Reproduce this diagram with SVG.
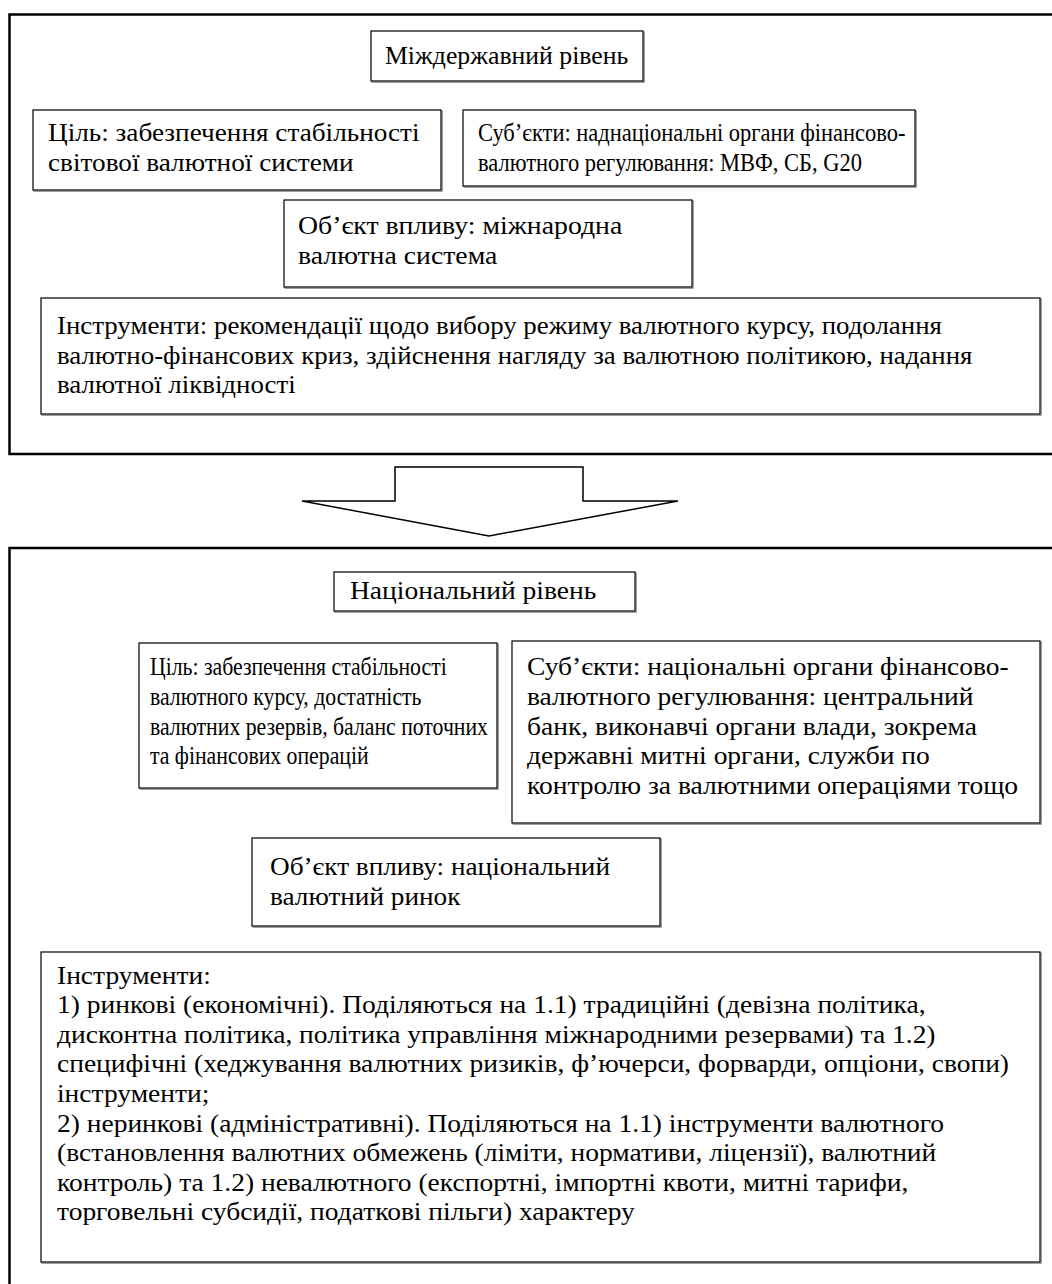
<svg xmlns="http://www.w3.org/2000/svg" width="1052" height="1284" viewBox="0 0 1052 1284">
<style>
.frame{fill:none;stroke:#000;stroke-width:2.5}
.box{fill:#fff;stroke:#000;stroke-width:1.2}
.sh{fill:none;stroke:#888;stroke-width:1.2}
.t{font-family:"Liberation Serif","Times New Roman",serif;font-size:25px;fill:#000}
</style>
<rect width="1052" height="1284" fill="#fff"/>
<g id="frame-top"><path class="frame" d="M1060 14.5 H9.5 V454 H1060"/></g>
<g id="frame-bottom"><path class="frame" d="M1060 548 H9.5 V1290"/></g>

<g id="n-top-title"><rect class="sh" x="372.2" y="32.2" width="272" height="50"/><rect class="box" x="371" y="31" width="272" height="50"/>
<text class="t" transform="matrix(1.03 0 0 1 -11.55 0)" x="385" y="64">Міждержавний рівень</text></g>
<g id="n-top-goal"><rect class="sh" x="34.2" y="111.2" width="408" height="80"/><rect class="box" x="33" y="110" width="408" height="80"/>
<text class="t" transform="matrix(1.09 0 0 1 -4.32 0)"><tspan x="48" y="141">Ціль: забезпечення стабільності</tspan><tspan x="48" y="171">світової валютної системи</tspan></text></g>
<g id="n-top-subj"><rect class="sh" x="464.2" y="111.2" width="452" height="76"/><rect class="box" x="463" y="110" width="452" height="76"/>
<text class="t" transform="matrix(0.9 0 0 1 47.8 0)"><tspan x="478" y="141">Суб’єкти: наднаціональні органи фінансово-</tspan><tspan x="478" y="171">валютного регулювання: МВФ, СБ, G20</tspan></text></g>
<g id="n-top-obj"><rect class="sh" x="285.2" y="201.2" width="408" height="87"/><rect class="box" x="284" y="200" width="408" height="87"/>
<text class="t" transform="matrix(1.11 0 0 1 -32.78 0)"><tspan x="298" y="234">Об’єкт впливу: міжнародна</tspan><tspan x="298" y="264">валютна система</tspan></text></g>
<g id="n-top-instr"><rect class="sh" x="42.2" y="299.2" width="999" height="116"/><rect class="box" x="41" y="298" width="999" height="116"/>
<text class="t" transform="matrix(1.075 0 0 1 -4.275 0)"><tspan x="57" y="334">Інструменти: рекомендації щодо вибору режиму валютного курсу, подолання</tspan><tspan x="57" y="364">валютно-фінансових криз, здійснення нагляду за валютною політикою, надання</tspan><tspan x="57" y="393">валютної ліквідності</tspan></text></g>

<g id="connectors"><polygon fill="#fff" stroke="#000" stroke-width="1.5" points="395,467 583,467 583,501 678,501 489,536 302,501 395,501"/></g>

<g id="n-nat-title"><rect class="sh" x="335.2" y="573.2" width="301" height="39"/><rect class="box" x="334" y="572" width="301" height="39"/>
<text class="t" transform="matrix(1.1 0 0 1 -35 0)" x="350" y="599">Національний рівень</text></g>
<g id="n-nat-goal"><rect class="sh" x="140.2" y="644.2" width="358" height="145"/><rect class="box" x="139" y="643" width="358" height="145"/>
<text class="t" transform="matrix(0.87 0 0 1 19.5 0)"><tspan x="150" y="675">Ціль: забезпечення стабільності</tspan><tspan x="150" y="705">валютного курсу, достатність</tspan><tspan x="150" y="735">валютних резервів, баланс поточних</tspan><tspan x="150" y="764">та фінансових операцій</tspan></text></g>
<g id="n-nat-subj"><rect class="sh" x="513.2" y="642.2" width="528" height="182"/><rect class="box" x="512" y="641" width="528" height="182"/>
<text class="t" transform="matrix(1.1 0 0 1 -52.7 0)"><tspan x="527" y="675">Суб’єкти: національні органи фінансово-</tspan><tspan x="527" y="705">валютного регулювання: центральний</tspan><tspan x="527" y="735">банк, виконавчі органи влади, зокрема</tspan><tspan x="527" y="764">державні митні органи, служби по</tspan><tspan x="527" y="794">контролю за валютними операціями тощо</tspan></text></g>
<g id="n-nat-obj"><rect class="sh" x="253.2" y="839.2" width="408" height="88"/><rect class="box" x="252" y="838" width="408" height="88"/>
<text class="t" transform="matrix(1.09 0 0 1 -24.3 0)"><tspan x="270" y="875">Об’єкт впливу: національний</tspan><tspan x="270" y="905">валютний ринок</tspan></text></g>
<g id="n-nat-instr"><rect class="sh" x="42.2" y="953.2" width="999" height="310"/><rect class="box" x="41" y="952" width="999" height="310"/>
<text class="t" transform="matrix(1.1 0 0 1 -5.7 0)"><tspan x="57" y="984">Інструменти:</tspan><tspan x="57" y="1013">1) ринкові (економічні). Поділяються на 1.1) традиційні (девізна політика,</tspan><tspan x="57" y="1043">дисконтна політика, політика управління міжнародними резервами) та 1.2)</tspan><tspan x="57" y="1072">специфічні (хеджування валютних ризиків, ф’ючерси, форварди, опціони, свопи)</tspan><tspan x="57" y="1102">інструменти;</tspan><tspan x="57" y="1132">2) неринкові (адміністративні). Поділяються на 1.1) інструменти валютного</tspan><tspan x="57" y="1161">(встановлення валютних обмежень (ліміти, нормативи, ліцензії), валютний</tspan><tspan x="57" y="1191">контроль) та 1.2) невалютного (експортні, імпортні квоти, митні тарифи,</tspan><tspan x="57" y="1220">торговельні субсидії, податкові пільги) характеру</tspan></text></g>
</svg>
